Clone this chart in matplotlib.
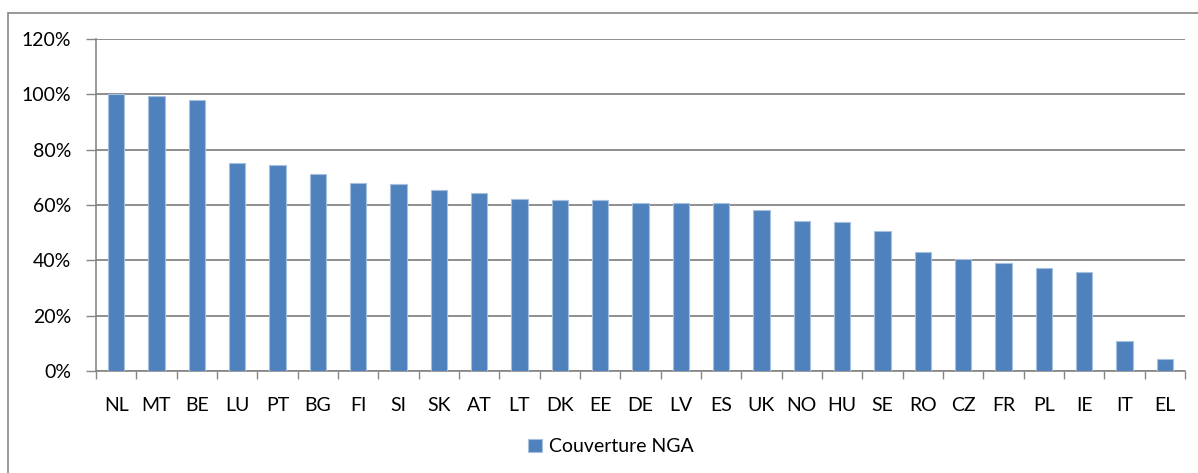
import matplotlib
matplotlib.use('Agg')
import matplotlib.pyplot as plt
import numpy as np
from matplotlib.patches import Rectangle
from matplotlib.ticker import FuncFormatter, FixedLocator

plt.rcParams['font.family'] = ['Lato', 'DejaVu Sans']

countries = ['NL', 'MT', 'BE', 'LU', 'PT', 'BG', 'FI', 'SI', 'SK', 'AT',
             'LT', 'DK', 'EE', 'DE', 'LV', 'ES', 'UK', 'NO', 'HU', 'SE',
             'RO', 'CZ', 'FR', 'PL', 'IE', 'IT', 'EL']
coverage = [1.000, 0.993, 0.981, 0.751, 0.745, 0.713, 0.678, 0.677, 0.654, 0.645,
            0.622, 0.619, 0.618, 0.609, 0.609, 0.607, 0.583, 0.544, 0.540, 0.506,
            0.430, 0.404, 0.392, 0.371, 0.357, 0.108, 0.043]
series_name = 'Couverture NGA'

fig = plt.figure(figsize=(11.98, 4.73), dpi=100)
ax = fig.add_axes([0.0801, 0.2156, 0.9090, 0.7019])

x = np.arange(len(countries))
ax.bar(x, coverage, width=0.4, color='#4F81BD', edgecolor='#A7C0DE',
       linewidth=0.8, label=series_name, zorder=3)

ax.set_xlim(-0.5, len(countries) - 0.5)
ax.set_ylim(0, 1.2)
ax.set_yticks(np.arange(0, 1.21, 0.2))
ax.yaxis.set_major_formatter(FuncFormatter(lambda v, p: f'{v*100:.0f}%'))
ax.grid(axis='y', color='#868686', linewidth=1.3, zorder=0)

ax.set_xticks(x)
ax.set_xticklabels(countries)
ax.xaxis.set_minor_locator(FixedLocator(np.arange(-0.5, len(countries), 1)))
ax.tick_params(axis='x', which='major', length=0, pad=19, labelsize=14)
ax.tick_params(axis='x', which='minor', length=6, width=1, color='#868686')
ax.tick_params(axis='y', length=7, width=1, color='#868686', pad=11, labelsize=14)

for s in ['top', 'right']:
    ax.spines[s].set_visible(False)
for s in ['left', 'bottom']:
    ax.spines[s].set_color('#868686')
    ax.spines[s].set_linewidth(1.2)

leg = fig.legend(loc='center', bbox_to_anchor=(0.51, 0.055), frameon=False,
                 fontsize=14, handlelength=0.7, handleheight=0.7, handletextpad=0.4)

fig.patches.append(Rectangle((8 / 1198, -0.05), 1.1, 1 - 13 / 473 + 0.05,
                             transform=fig.transFigure, fill=False,
                             edgecolor='#868686', linewidth=1.2))

fig.savefig('out.png', dpi=100)
